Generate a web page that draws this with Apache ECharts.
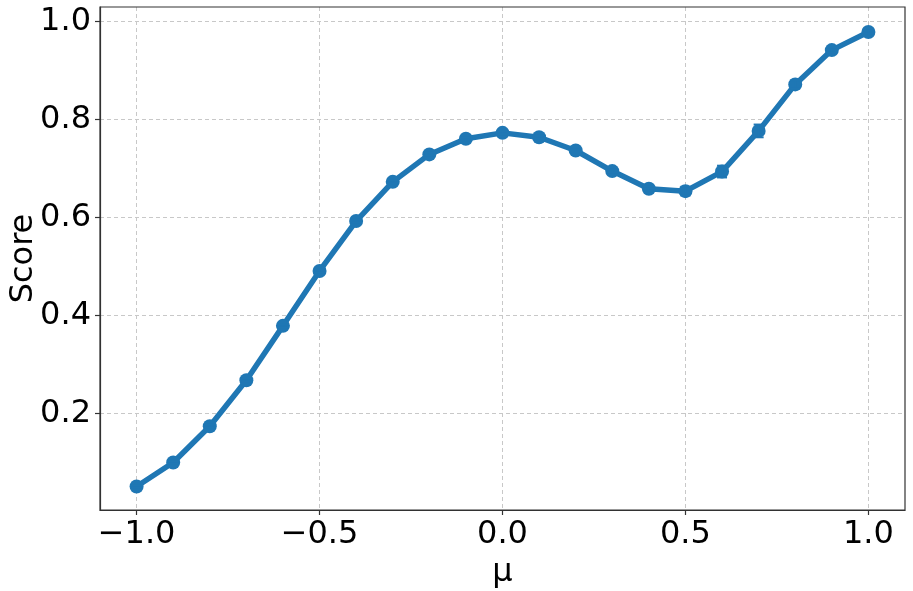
<!DOCTYPE html>
<html>
<head>
<meta charset="utf-8">
<script src="https://cdn.jsdelivr.net/npm/echarts@6/dist/echarts.min.js"></script>
<style>
  html, body { margin: 0; padding: 0; background: #fff; }
  #chart { width: 913px; height: 591px; }
</style>
</head>
<body>
<div id="chart"></div>
<script>
// values
const muValues = [-1.0, -0.9, -0.8, -0.7, -0.6, -0.5, -0.4, -0.3, -0.2, -0.1, 0.0,
                  0.1, 0.2, 0.3, 0.4, 0.5, 0.6, 0.7, 0.8, 0.9, 1.0];
const scores = [0.051, 0.100, 0.174, 0.268, 0.379, 0.491, 0.593, 0.673, 0.729, 0.761, 0.773,
                0.764, 0.737, 0.695, 0.659, 0.654, 0.694, 0.777, 0.872, 0.942, 0.979];
const scoreErr = [0.002, 0.002, 0.003, 0.003, 0.003, 0.003, 0.003, 0.003, 0.003, 0.003, 0.003,
                  0.003, 0.003, 0.003, 0.004, 0.009, 0.012, 0.013, 0.008, 0.005, 0.003];
const xTicks = [-1.0, -0.5, 0.0, 0.5, 1.0];
const yTicks = [0.2, 0.4, 0.6, 0.8, 1.0];

const blue = '#1f77b4';
const fontFamily = 'DejaVu Sans';

function fmt(v) {
    return Number(v).toFixed(1).replace('-', '\u2212');
}

const chart = echarts.init(document.getElementById('chart'), null, { renderer: 'canvas' });

const lineData = muValues.map((m, i) => [m, scores[i]]);
const errData = muValues.map((m, i) => [m, scores[i] - scoreErr[i], scores[i] + scoreErr[i]]);

const option = {
    animation: false,
    backgroundColor: '#fff',
    grid: { left: 100, right: 8, top: 7, bottom: 81, containLabel: false, outerBoundsMode: 'none' },
    xAxis: {
        type: 'value',
        min: -1.1,
        max: 1.1,
        name: 'μ',
        nameLocation: 'middle',
        nameGap: 47,
        nameMoveOverlap: false,
        nameTextStyle: { fontFamily: fontFamily, fontSize: 32, color: '#000' },
        axisLine: { show: true, onZero: false, lineStyle: { color: '#333', width: 1.2 } },
        axisTick: { show: true, length: 5, customValues: xTicks, lineStyle: { color: '#333', width: 1.2 } },
        axisLabel: {
            customValues: xTicks,
            formatter: fmt,
            margin: 9,
            fontFamily: fontFamily,
            fontSize: 32,
            color: '#000'
        },
        splitLine: { show: true, lineStyle: { color: '#c8c8c8', type: [4, 3], width: 1 } }
    },
    yAxis: {
        type: 'value',
        min: 0.003,
        max: 1.03,
        name: 'Score',
        nameLocation: 'middle',
        nameGap: 60,
        nameMoveOverlap: false,
        nameTextStyle: { fontFamily: fontFamily, fontSize: 32, color: '#000' },
        axisLine: { show: true, onZero: false, lineStyle: { color: '#333', width: 1.2 } },
        axisTick: { show: true, length: 5, customValues: yTicks, lineStyle: { color: '#333', width: 1.2 } },
        axisLabel: {
            customValues: yTicks,
            formatter: fmt,
            margin: 9,
            fontFamily: fontFamily,
            fontSize: 32,
            color: '#000'
        },
        splitLine: { show: true, lineStyle: { color: '#c8c8c8', type: [4, 3], width: 1 } }
    },
    series: [
        {
            type: 'line',
            data: lineData,
            symbol: 'circle',
            symbolSize: 14,
            lineStyle: { color: blue, width: 5.5 },
            itemStyle: { color: blue },
            z: 3
        },
        {
            type: 'custom',
            data: errData,
            z: 4,
            renderItem: function (params, api) {
                const x = api.value(0);
                const lo = api.coord([x, api.value(1)]);
                const hi = api.coord([x, api.value(2)]);
                const cap = 5;
                const style = { stroke: blue, lineWidth: 2 };
                return {
                    type: 'group',
                    children: [
                        { type: 'line', shape: { x1: lo[0], y1: lo[1], x2: hi[0], y2: hi[1] }, style: style },
                        { type: 'line', shape: { x1: lo[0] - cap, y1: lo[1], x2: lo[0] + cap, y2: lo[1] }, style: style },
                        { type: 'line', shape: { x1: hi[0] - cap, y1: hi[1], x2: hi[0] + cap, y2: hi[1] }, style: style }
                    ]
                };
            }
        }
    ]
};

chart.setOption(option);

// top and right spines of the plot frame
const rect = chart.getModel().getComponent('grid').coordinateSystem.getRect();
chart.setOption({
    graphic: [{
        type: 'rect',
        shape: { x: rect.x, y: rect.y, width: rect.width, height: rect.height },
        style: { fill: 'none', stroke: '#333', lineWidth: 1.2 },
        silent: true,
        z: 10
    }]
});
</script>
</body>
</html>
